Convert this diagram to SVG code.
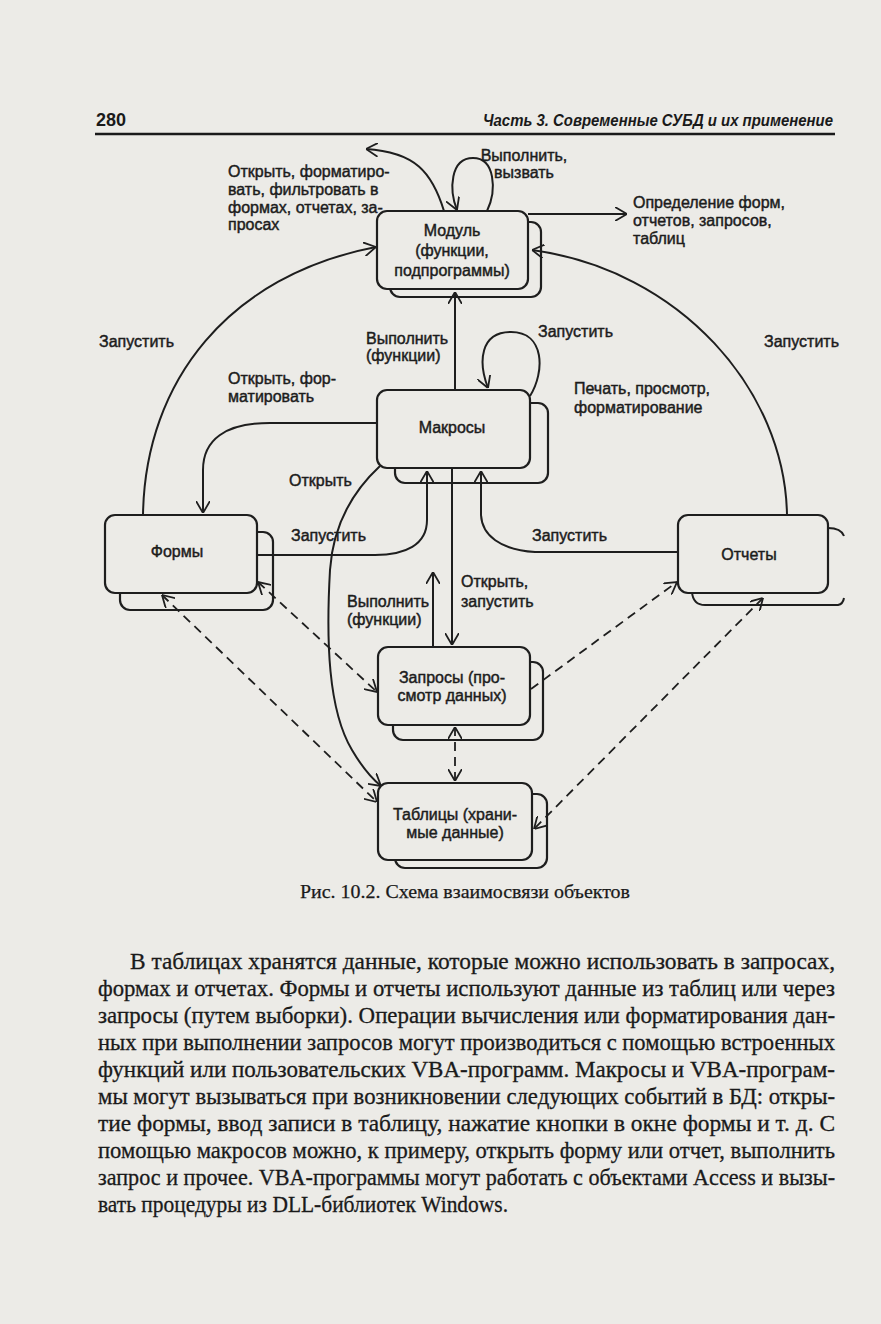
<svg xmlns="http://www.w3.org/2000/svg" width="881" height="1324" viewBox="0 0 881 1324">
<defs>
<style>
.bg{fill:#ecebe7}
.box{fill:#ecebe7;stroke:#1e1e1e;stroke-width:2.2}
.ln{fill:none;stroke:#1e1e1e;stroke-width:2}
.ds{fill:none;stroke:#1e1e1e;stroke-width:1.8;stroke-dasharray:9 6}
.t{font-family:"Liberation Sans",Arial,sans-serif;font-size:16px;fill:#1c1c1c;stroke:#1c1c1c;stroke-width:0.45}
.c{text-anchor:middle}
.p{font-family:"Liberation Serif","Times New Roman",serif;font-size:23px;fill:#1a1a1a;stroke:#1a1a1a;stroke-width:0.3}
.cap{font-family:"Liberation Serif","Times New Roman",serif;font-size:19px;fill:#1a1a1a;stroke:#1a1a1a;stroke-width:0.25}
.hd{font-family:"Liberation Sans",Arial,sans-serif;fill:#1a1a1a}
</style>
<marker id="a" viewBox="0 0 12 14" refX="12" refY="7" markerWidth="12" markerHeight="14" markerUnits="userSpaceOnUse" orient="auto-start-reverse">
<path d="M0,0 L12,7 L0,14" fill="none" stroke="#1e1e1e" stroke-width="1.8"/>
</marker>
</defs>
<rect class="bg" x="0" y="0" width="881" height="1324"/>

<g id="header">
<text class="hd" x="96" y="126" font-size="18" font-weight="bold">280</text>
<text class="hd" x="483" y="126" font-size="16" font-style="italic" font-weight="bold" textLength="350" lengthAdjust="spacingAndGlyphs">Часть 3. Современные СУБД и их применение</text>
<line x1="95" y1="134" x2="835" y2="134" stroke="#1a1a1a" stroke-width="2.5"/>
</g>

<g id="node-modul">
<rect class="box" x="390" y="222" width="151" height="75" rx="10"/>
<rect class="box" x="377" y="211" width="151" height="78" rx="10"/>
<text class="t c" x="452" y="236">Модуль</text>
<text class="t c" x="452" y="256">(функции,</text>
<text class="t c" x="452" y="276">подпрограммы)</text>
</g>

<g id="node-makrosy">
<rect class="box" x="395" y="403" width="153" height="80" rx="10"/>
<rect class="box" x="377" y="390" width="153" height="78" rx="10"/>
<text class="t c" x="452" y="433">Макросы</text>
</g>

<g id="node-formy">
<rect class="box" x="120" y="532" width="153" height="78" rx="10"/>
<rect class="box" x="105" y="515" width="152" height="78" rx="10"/>
<text class="t c" x="177" y="557">Формы</text>
</g>

<g id="node-otchety">
<path class="ln" d="M828,528 Q841,528 844,536"/>
<path class="ln" d="M692,592 Q693,605 705,605 L838,605 Q843,604 844,598"/>
<rect class="box" x="678" y="515" width="150" height="78" rx="10"/>
<text class="t c" x="749" y="560">Отчеты</text>
</g>

<g id="node-zaprosy">
<rect class="box" x="393" y="662" width="150" height="78" rx="10"/>
<rect class="box" x="378" y="647" width="152" height="78" rx="10"/>
<text class="t c" x="452" y="683">Запросы (про-</text>
<text class="t c" x="452" y="701">смотр данных)</text>
</g>

<g id="node-tablicy">
<rect class="box" x="395" y="794" width="152" height="74" rx="10"/>
<rect class="box" x="378" y="783" width="154" height="77" rx="10"/>
<text class="t c" x="455" y="820">Таблицы (храни-</text>
<text class="t c" x="455" y="838">мые данные)</text>
</g>

<g id="connectors">
<path class="ln" d="M444,211 C432,172 415,152 366,149" marker-end="url(#a)"/>
<path class="ln" d="M487,211 C497,190 495,158 473,158 C450,158 449,190 457,210" marker-end="url(#a)"/>
<path class="ln" d="M528,214 L627,214" marker-end="url(#a)"/>
<path class="ln" d="M143,515 C145,380 230,275 376,247" marker-end="url(#a)"/>
<path class="ln" d="M787,515 C785,390 680,270 532,250" marker-end="url(#a)"/>
<path class="ln" d="M455,390 L455,292" marker-end="url(#a)"/>
<path class="ln" d="M530,396 C545,372 545,332 511,332 C480,332 478,362 488,388" marker-end="url(#a)"/>
<path class="ln" d="M377,423 L270,423 C225,423 203,440 203,470 L203,513" marker-end="url(#a)"/>
<path class="ln" d="M380,466 C352,492 333,525 330,570 C326,640 328,710 352,750 C362,767 370,777 381,786" marker-end="url(#a)"/>
<path class="ln" d="M257,555 L375,555 C405,555 427,545 427,520 L427,471" marker-end="url(#a)"/>
<path class="ln" d="M678,552 L535,552 C500,550 482,535 481,515 L481,471" marker-end="url(#a)"/>
<path class="ln" d="M452,468 L452,645" marker-end="url(#a)"/>
<path class="ln" d="M433,647 L433,572" marker-end="url(#a)"/>
<path class="ds" d="M455,727 L455,781" marker-start="url(#a)" marker-end="url(#a)"/>
<path class="ds" d="M162,595 L377,802" marker-start="url(#a)" marker-end="url(#a)"/>
<path class="ds" d="M258,582 L377,692" marker-start="url(#a)" marker-end="url(#a)"/>
<path class="ds" d="M531,689 L677,582" marker-end="url(#a)"/>
<path class="ds" d="M763,598 L534,829" marker-start="url(#a)" marker-end="url(#a)"/>
</g>

<g id="labels">
<text class="t" x="228" y="177">Открыть, форматиро-</text>
<text class="t" x="228" y="195">вать, фильтровать в</text>
<text class="t" x="228" y="213">формах, отчетах, за-</text>
<text class="t" x="228" y="230">просах</text>
<text class="t c" x="524" y="161">Выполнить,</text>
<text class="t c" x="524" y="178">вызвать</text>
<text class="t" x="633" y="208">Определение форм,</text>
<text class="t" x="633" y="226">отчетов, запросов,</text>
<text class="t" x="633" y="244">таблиц</text>
<text class="t" x="99" y="347">Запустить</text>
<text class="t" x="366" y="344">Выполнить</text>
<text class="t" x="366" y="361">(функции)</text>
<text class="t" x="538" y="337">Запустить</text>
<text class="t" x="764" y="347">Запустить</text>
<text class="t" x="228" y="384">Открыть, фор-</text>
<text class="t" x="228" y="402">матировать</text>
<text class="t" x="574" y="394">Печать, просмотр,</text>
<text class="t" x="574" y="413">форматирование</text>
<text class="t" x="289" y="486">Открыть</text>
<text class="t" x="291" y="541">Запустить</text>
<text class="t" x="532" y="541">Запустить</text>
<text class="t" x="347" y="607">Выполнить</text>
<text class="t" x="347" y="625">(функции)</text>
<text class="t" x="461" y="587">Открыть,</text>
<text class="t" x="461" y="607">запустить</text>
</g>

<g id="caption">
<text class="cap" x="300" y="898" textLength="330" lengthAdjust="spacingAndGlyphs">Рис. 10.2. Схема взаимосвязи объектов</text>
</g>

<g id="paragraph">
<text class="p" x="130" y="969" textLength="705" lengthAdjust="spacingAndGlyphs">В таблицах хранятся данные, которые можно использовать в запросах,</text>
<text class="p" x="98" y="996" textLength="737" lengthAdjust="spacingAndGlyphs">формах и отчетах. Формы и отчеты используют данные из таблиц или через</text>
<text class="p" x="98" y="1023" textLength="737" lengthAdjust="spacingAndGlyphs">запросы (путем выборки). Операции вычисления или форматирования дан-</text>
<text class="p" x="98" y="1050" textLength="737" lengthAdjust="spacingAndGlyphs">ных при выполнении запросов могут производиться с помощью встроенных</text>
<text class="p" x="98" y="1077" textLength="737" lengthAdjust="spacingAndGlyphs">функций или пользовательских VBA-программ. Макросы и VBA-програм-</text>
<text class="p" x="98" y="1104" textLength="737" lengthAdjust="spacingAndGlyphs">мы могут вызываться при возникновении следующих событий в БД: откры-</text>
<text class="p" x="98" y="1131" textLength="737" lengthAdjust="spacingAndGlyphs">тие формы, ввод записи в таблицу, нажатие кнопки в окне формы и т. д. С</text>
<text class="p" x="98" y="1158" textLength="737" lengthAdjust="spacingAndGlyphs">помощью макросов можно, к примеру, открыть форму или отчет, выполнить</text>
<text class="p" x="98" y="1185" textLength="737" lengthAdjust="spacingAndGlyphs">запрос и прочее. VBA-программы могут работать с объектами Access и вызы-</text>
<text class="p" x="98" y="1212" textLength="410" lengthAdjust="spacingAndGlyphs">вать процедуры из DLL-библиотек Windows.</text>
</g>
</svg>
